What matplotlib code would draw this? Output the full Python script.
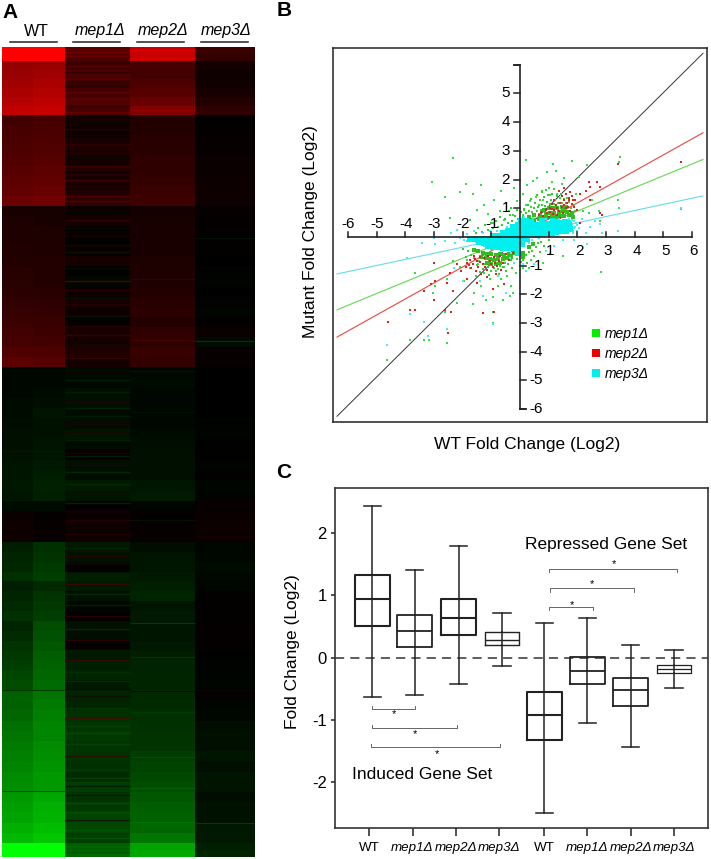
"""Three panel figure: expression heatmap, WT vs mutant scatter, fold change boxplots."""

import matplotlib
matplotlib.use("Agg")
import matplotlib.pyplot as plt
import numpy as np
from matplotlib.colors import LinearSegmentedColormap, Normalize
from matplotlib.lines import Line2D

plt.rcParams["font.family"] = ["Liberation Sans", "DejaVu Sans"]

W, H = 711, 859
MEP1 = "mep1\u0394"
MEP2 = "mep2\u0394"
MEP3 = "mep3\u0394"

# ----------- panel A data, signed colour level per row (red +, green -) -----------
block_edges = [47, 61, 115, 206, 367, 542, 690, 792, 843, 857]
block_rows = [2, 6, 9, 16, 17, 15, 10, 5, 2]

wt_a = [100, 100,
        58, 60, 63, 67, 70, 76,
        25, 27, 29, 30, 32, 34, 36, 38, 42,
        10, 11, 12, 12, 13, 14, 15, 15, 17, 19, 21, 23, 26, 28, 32, 36,
        -3, -3, -3, -4, -4, -5, -6, -6, -7, -8, -8, -9, -8, -4, 4, 6, 6,
        -12, -14, -15, -18, -12, -14, -16, -18, -14, -17, -20, -22, -24, -27, -30,
        -38, -38, -40, -44, -46, -48, -50, -52, -54, -56,
        -60, -62, -64, -68, -72,
        -100, -100]
wt_b = [100, 100,
        60, 63, 66, 70, 74, 78,
        27, 29, 30, 32, 34, 36, 38, 40, 44,
        9, 10, 11, 11, 12, 13, 14, 14, 16, 18, 20, 22, 24, 26, 30, 34,
        -2, -3, -4, -5, -8, -7, -7, -8, -8, -10, -11, -13, -12, -4, 2, 3, 3,
        -18, -20, -22, -24, -16, -20, -22, -24, -30, -32, -34, -36, -38, -40, -42,
        -46, -48, -50, -52, -52, -54, -56, -58, -60, -60,
        -65, -68, -70, -74, -78,
        -100, -100]
mep1 = [35, 30,
        22, 30, 22, 26, 32, 28,
        8, 6, 9, 12, 8, 14, 10, 12, 18,
        5, 8, 3, 1, 4, 10, 1, -3, 4, 8, 6, 1, 10, 8, 12, 8,
        -4, -3, -6, -6, -4, -5, -8, -4, 3, -6, -5, -10, -8, 2, 4, 6, 6,
        -10, -7, 2, -12, -10, -7, -3, 1, -7, -5, 3, -9, -12, -14, -10,
        -14, -14, -18, -20, -22, -20, -20, -18, -16, -24,
        -20, -22, -26, -28, -24,
        -36, -40]
mep2 = [78, 78,
        28, 26, 30, 34, 40, 50,
        14, 14, 16, 16, 18, 18, 20, 22, 24,
        8, 9, 10, 10, 10, 11, 12, 12, 14, 16, 17, 14, 18, 18, 22, 20,
        -3, -4, -3, -3, -3, -3, -4, -5, -6, -6, -6, -8, -10, -2, 2, 3, 3,
        -5, -8, -8, -10, -12, -14, -8, -10, -8, -8, -10, -12, -14, -14, -14,
        -16, -16, -18, -18, -20, -20, -24, -26, -28, -30,
        -34, -36, -38, -40, -46,
        -64, -66]
mep3 = [22, 20,
        8, 6, 7, 10, 14, 18,
        1, 2, 3, 3, 4, 4, 5, 6, 5,
        3, 2, 2, 1, 1, 0, -1, -1, 0, -1, -2, 2, 4, -4, 3, 3,
        0, 0, 0, 0, 0, -1, -1, 0, 1, -1, 1, -2, -1, 3, 4, 5, 4,
        -2, -3, -4, -3, -2, 1, 1, 1, 2, 2, 1, 0, -1, -1, -2,
        2, -2, -3, -5, -6, -6, -8, -6, -8, -8,
        -5, -7, -7, -9, -10,
        -12, -14]

# thin single-gene lines in the mutant columns: (row position, level)
mep1_streaks = [(52, 50), (56, 48), (66, 46), (72, 12), (79, 44), (86, 14), (92, 46), (99, 42), (106, 14), (112, 48),
                (122, -4), (129, 24), (136, 0), (144, 26), (151, 4), (158, -4), (166, 28), (172, 0), (180, 34),
                (188, 8), (196, 40), (201, 44), (212, -4), (220, 28), (228, -8), (236, 14), (245, -12), (252, -14),
                (261, 4), (268, -10), (281, 52), (290, 26), (298, -8), (304, 20), (316, -14), (326, 24), (335, 30),
                (345, -10), (358, 30), (363, 6), (372, 10), (380, -18), (392, -16), (402, 16), (408, -20), (416, -16),
                (424, 14), (432, 14), (440, -18), (453, 18), (456, -18), (465, 20), (472, -22), (484, -22), (493, 18),
                (503, -24), (511, 12), (520, 22), (534, 18), (548, -16), (556, 22), (563, -14), (572, -6), (584, 34),
                (594, -24), (605, -20), (616, 30), (629, -24), (640, 28), (650, -18), (660, 30), (672, -22), (681, -26),
                (689, -4), (696, 12), (708, -28), (718, 40), (726, -30), (733, -34), (744, -30), (756, 22), (770, -28),
                (778, -34), (786, -2), (795, 0), (803, -36), (812, -38), (820, 10), (830, -36), (838, -40), (846, -44),
                (852, -32)]
mep2_streaks = [(50, 92), (58, 92), (110, 62), (279, 30), (340, 34), (371, -14), (412, -10), (520, -12),
                (623, -34), (657, -26), (691, -2), (712, -26), (757, -36), (788, -44), (822, -50)]
wt_streaks = [(690, -2), (791, -4), (500, -14), (451, -14), (365, 40)]
mep3_streaks = [(238, -12), (341, -32), (500, 8), (536, 10), (690, 10), (823, -34)]

# ----------- panel B data -----------
line_x = [-6.38, 6.38]
diag_y = [-6.25, 6.40]
mep2_fit = [-3.49, 3.63]
mep1_fit = [-2.54, 2.70]
mep3_fit = [-1.29, 1.43]

mep1_core = [(0.2, 0.55), (0.35, 0.6), (0.5, 0.6), (0.65, 0.62), (0.8, 0.65), (0.95, 0.65), (1.1, 0.68), (1.25, 0.7),
             (1.4, 0.72), (1.55, 0.72), (1.7, 0.75), (1.85, 0.7), (0.3, 0.7), (0.5, 0.75), (0.7, 0.78), (0.9, 0.8),
             (1.05, 0.85), (1.2, 0.85), (1.35, 0.88), (1.5, 0.9), (1.65, 0.88), (1.8, 0.85), (0.85, 0.95), (1.0, 1.0),
             (1.15, 1.0), (1.3, 1.02), (1.45, 1.05), (1.6, 1.05),
             (-0.1, -0.5), (-0.25, -0.55), (-0.4, -0.6), (-0.55, -0.62), (-0.7, -0.6), (-0.85, -0.62), (-1.0, -0.58),
             (-1.15, -0.58), (-1.3, -0.55), (-1.45, -0.5), (-1.6, -0.45), (-0.3, -0.7), (-0.45, -0.75), (-0.6, -0.78),
             (-0.75, -0.78), (-0.9, -0.8), (-1.05, -0.78), (-1.2, -0.75), (-1.35, -0.7), (-0.7, -0.9), (-0.85, -0.95),
             (-1.0, -0.95), (-1.15, -0.9), (0.1, -0.55), (0.3, -0.35), (0.45, -0.25), (0.1, -0.7)]
mep1_mid = [(0.1, 0.7), (0.22, 0.82), (0.3, 0.92), (0.42, 0.86), (0.48, 1.0), (0.58, 0.9), (0.62, 1.05), (0.72, 0.95),
            (0.78, 1.12), (0.88, 1.08), (0.93, 1.22), (1.03, 1.15), (1.08, 1.3), (1.18, 1.15), (1.22, 1.28), (1.33, 1.18),
            (1.38, 1.35), (1.48, 1.2), (1.55, 1.32), (1.62, 1.18), (1.72, 1.22), (1.78, 1.02), (1.88, 1.1), (1.93, 0.92),
            (0.15, 0.98), (0.05, 0.88), (0.28, 1.12), (0.52, 1.18), (0.68, 1.28), (0.83, 1.38), (0.98, 1.45), (1.12, 1.5),
            (1.28, 1.42), (1.44, 1.5), (0.38, 1.32), (0.6, 1.45), (0.75, 1.55), (0.9, 1.65), (1.02, 1.7), (1.18, 1.68),
            (-0.08, 0.62), (-0.18, 0.72), (-0.28, 0.55), (-0.35, 0.78), (-0.42, 0.48), (-0.52, 0.62), (-0.62, 0.42),
            (-0.68, 0.7), (-0.78, 0.35), (-0.85, 0.55), (-0.95, 0.3), (-1.02, 0.48), (-1.12, 0.24), (-1.22, 0.4),
            (-1.32, 0.18), (-1.45, 0.3), (-1.55, 0.12), (-0.12, 0.95), (-0.32, 1.0),
            (-0.02, -0.62), (-0.12, -0.78), (-0.22, -0.9), (-0.32, -0.82), (-0.42, -0.95), (-0.52, -0.9), (-0.58, -1.05),
            (-0.68, -1.02), (-0.78, -1.12), (-0.92, -1.08), (-1.02, -1.18), (-1.12, -1.05), (-1.22, -0.95), (-1.28, -1.12),
            (-1.42, -0.85), (-1.5, -0.98), (-1.6, -0.72), (-1.72, -0.62), (-1.8, -0.5), (-1.9, -0.7), (-2.0, -0.42),
            (-0.48, -1.18), (-0.72, -1.3), (-1.08, -1.32), (-1.38, -1.22), (-0.28, -1.08), (0.02, -0.88), (0.12, -0.82),
            (0.22, -0.62), (0.32, -0.52), (0.42, -0.48), (0.55, -0.35), (0.62, -0.22), (0.72, -0.18), (0.85, -0.3),
            (1.0, -0.12), (0.25, -0.9), (0.48, -0.68), (0.68, -0.52)]
mep1_sparse = [(-2.32, 2.76), (-3.07, 1.93), (0.21, 2.68), (1.16, 2.54), (1.83, 2.63), (2.35, 2.5), (3.48, 2.8),
               (3.45, 2.6), (5.63, 0.97), (2.84, -1.23), (-4.64, -4.28), (-3.36, -3.6), (-3.16, -3.6), (-3.83, -3.6),
               (-2.55, -3.7), (-0.93, -3.0), (-1.9, 1.85), (-1.35, 1.8), (-2.1, 1.55), (-2.6, 1.4), (-2.45, 0.65),
               (-1.65, 1.5), (-1.25, 1.1), (-0.9, 1.3), (-0.65, 1.6), (-0.5, 1.2), (-1.5, 0.95), (-1.1, 0.8), (-1.75, 0.6),
               (-0.7, 0.9), (-0.4, 0.9), (-0.2, 1.7), (-0.1, 1.25), (-0.95, 0.5), (-0.55, 0.6), (-0.25, 0.75), (0.1, 1.5),
               (0.25, 1.8), (0.45, 1.95), (0.6, 2.05), (0.75, 1.6), (0.95, 2.25), (1.1, 1.9), (1.25, 2.3), (1.45, 1.85),
               (1.55, 2.05), (0.35, 1.25), (0.55, 1.4), (0.8, 1.3), (1.05, 1.45), (1.3, 1.5), (1.65, 1.35), (1.95, 1.5),
               (2.05, 2.1), (2.5, 1.3), (2.75, 0.9), (3.4, 1.3), (3.45, 1.0), (2.8, 0.55), (2.4, 0.85), (2.2, 0.9),
               (0.15, 0.95), (0.1, 0.75), (0.4, 1.05), (0.65, 1.1), (0.2, 1.1), (1.5, -0.65), (1.05, -0.6), (0.8, -0.9),
               (0.4, -0.8), (0.3, -1.1), (0.1, -1.1), (-0.15, -1.25), (-0.3, -1.7), (-0.25, -1.95), (-0.45, -1.35),
               (-0.65, -1.45), (-0.85, -1.2), (-0.75, -1.7), (-0.95, -2.1), (-1.05, -1.45), (-1.25, -1.25), (-1.35, -1.7),
               (-1.55, -1.35), (-1.6, -1.95), (-1.2, -2.2), (-1.75, -1.1), (-1.95, -1.55), (-2.1, -1.05), (-2.2, -2.3),
               (-2.35, -0.85), (-2.55, -1.45), (-2.6, -2.6), (-2.95, -1.7), (-3.05, -1.95), (-3.65, -1.25), (-0.6, -2.2),
               (-0.95, -2.6), (-1.65, -2.35), (-0.35, -2.05), (-0.55, -1.05), (-1.45, -0.95), (-1.85, -0.8)]
mep2_pts = [(0.65, 0.75), (0.8, 0.72), (0.95, 0.85), (1.0, 0.7), (1.05, 1.0), (1.15, 0.8), (1.2, 0.95), (1.25, 1.1),
            (1.3, 0.75), (1.35, 0.9), (1.4, 1.2), (1.45, 1.05), (1.5, 0.85), (1.55, 1.3), (1.6, 1.0), (1.65, 1.2),
            (1.7, 1.35), (1.75, 0.9), (1.8, 1.15), (1.85, 1.3), (1.9, 1.05), (1.4, 0.65), (1.1, 1.15), (0.9, 0.95),
            (1.6, 1.5), (1.75, 1.55), (1.35, 1.6), (1.55, 1.7), (1.2, 1.3), (0.75, 0.55), (2.1, 1.5), (2.3, 1.6),
            (2.4, 1.9), (2.45, 1.3), (2.7, 1.9), (2.8, 1.75), (2.45, 1.75), (2.8, 0.85), (2.85, 0.75), (3.42, 2.55),
            (5.6, 2.62), (2.1, 0.5), (2.0, 0.95), (0.85, 0.62), (1.05, 0.88), (1.28, 1.0), (1.52, 1.12), (1.68, 1.05),
            (1.82, 1.42), (1.48, 1.42), (1.12, 0.98), (0.72, 0.88), (1.92, 1.28), (1.72, 1.28),
            (-0.25, -0.55), (-0.4, -0.8), (-0.5, -0.6), (-0.6, -0.9), (-0.7, -0.65), (-0.8, -1.0), (-0.9, -0.7),
            (-0.95, -1.05), (-1.05, -0.85), (-1.1, -0.65), (-1.15, -1.15), (-1.25, -0.75), (-1.3, -0.95), (-1.4, -0.7),
            (-1.45, -1.05), (-1.5, -0.85), (-1.55, -1.2), (-1.6, -0.65), (-1.65, -0.95), (-1.7, -1.1), (-1.75, -0.8),
            (-1.85, -0.9), (-1.9, -1.05), (-1.35, -1.3), (-1.15, -1.4), (-0.85, -1.3), (-0.65, -1.15), (-0.55, -1.65),
            (-0.95, -1.8), (-1.5, -1.6), (-1.85, -1.45), (-2.05, -1.2), (-2.2, -0.95), (-2.45, -1.25), (-2.55, -1.6),
            (-2.35, -1.9), (-2.6, -2.55), (-2.4, -2.6), (-3.0, -0.9), (-2.95, -1.55), (-3.35, -1.9), (-3.1, -1.65),
            (-3.65, -2.55), (-3.85, -2.55), (-3.0, -2.2), (-2.5, -3.35), (-4.6, -2.95), (-1.3, -2.65), (-0.9, -2.6),
            (-1.02, -0.95), (-1.22, -1.05), (-1.38, -0.88), (-1.58, -0.78), (-1.78, -0.98), (-0.72, -0.85), (-0.88, -0.92)]
mep3_core = [(0.08, 0.08), (0.25, 0.08), (0.42, 0.08), (0.59, 0.08), (0.76, 0.1), (0.93, 0.12), (1.1, 0.14), (1.27, 0.16),
             (1.44, 0.2), (1.61, 0.22), (1.75, 0.27), (0.08, 0.25), (0.25, 0.25), (0.42, 0.25), (0.59, 0.25), (0.76, 0.27),
             (0.93, 0.28), (1.1, 0.3), (1.27, 0.32), (1.44, 0.36), (1.61, 0.38), (1.72, 0.4), (0.08, 0.42), (0.25, 0.42),
             (0.42, 0.42), (0.59, 0.42), (0.76, 0.44), (0.93, 0.46), (1.1, 0.46), (1.27, 0.48), (1.44, 0.5), (1.58, 0.52),
             (1.66, 0.5), (0.05, 0.56), (0.22, 0.55), (0.4, 0.52), (0.75, 0.55), (1.15, 0.56), (-0.08, 0.08), (-0.25, 0.07),
             (-0.42, 0.06), (-0.59, 0.05), (-0.76, 0.05), (-0.93, 0.04), (-0.08, 0.25), (-0.25, 0.22), (-0.42, 0.2), (-0.6, 0.14),
             (-0.08, 0.42), (-0.25, 0.34), (-0.08, -0.08), (-0.25, -0.08), (-0.42, -0.08), (-0.59, -0.08), (-0.76, -0.08),
             (-0.93, -0.08), (-1.1, -0.08), (-1.27, -0.08), (-1.44, -0.08), (-1.6, -0.07), (-1.75, -0.06), (-0.08, -0.25),
             (-0.25, -0.25), (-0.42, -0.25), (-0.59, -0.25), (-0.76, -0.25), (-0.93, -0.25), (-1.1, -0.24), (-1.27, -0.22),
             (-1.42, -0.18), (-0.08, -0.42), (-0.25, -0.4), (-0.42, -0.4), (-0.59, -0.38), (-0.76, -0.36), (-0.93, -0.34),
             (-1.1, -0.32), (0.08, -0.08), (0.25, -0.08), (0.08, -0.25), (-0.08, -0.55)]
mep3_sparse = [(1.95, 0.5), (2.05, 0.3), (2.15, 0.62), (2.3, 0.15), (2.45, 0.35), (2.6, 0.55), (2.8, 0.45), (2.85, 0.15),
               (3.4, 0.2), (5.63, 1.0), (2.35, -0.25), (1.9, -0.1), (1.5, -0.12), (1.2, -0.3), (0.9, -0.5), (0.5, -0.95),
               (0.1, -0.95), (-0.2, -0.9), (0.2, -1.2), (-1.95, -0.12), (-2.1, -0.05), (-2.25, -0.2), (-2.4, 0.12),
               (-2.2, 0.25), (-2.6, -0.15), (-2.95, -0.25), (-3.0, -0.05), (-3.4, -0.2), (-3.95, -0.75), (-3.85, -2.7),
               (-3.35, -2.95), (-3.2, -3.45), (-2.55, -3.2), (-4.65, -3.75), (-2.3, -1.1), (-2.0, -1.55), (-1.4, -1.55),
               (-0.95, -3.05), (-1.3, -2.05), (-0.75, -1.35), (-0.35, -0.75), (-0.5, -1.95), (-1.6, 0.2), (-1.85, 0.1),
               (-1.3, 0.12), (-1.05, 0.2), (0.15, 0.68), (0.45, 0.66), (0.9, 0.62), (1.35, 0.62), (1.7, 0.64), (1.92, 0.35),
               (-0.8, 0.22), (-0.45, 0.36), (-1.25, -0.32), (-0.6, -0.5), (-0.3, -0.55), (0.3, -0.2), (0.42, -0.12),
               (0.65, -0.05), (-1.55, -0.18), (-1.85, -0.15), (1.84, 0.2), (1.88, 0.32), (1.82, 0.44), (1.9, 0.56),
               (1.86, 0.12), (1.98, 0.2), (1.8, 0.6), (2.0, 0.42)]
legend_labels = [MEP1, MEP2, MEP3]
legend_colors = ["#00ee00", "#ee0000", "#00eeee"]

axis_ticks = [-6, -5, -4, -3, -2, -1, 1, 2, 3, 4, 5, 6]

# ----------- panel C data -----------
tick_pos = [1, 2, 3, 4, 5.05, 6.05, 7.05, 8.05]
box_pos = [1.07, 2.05, 3.07, 4.07, 5.05, 6.05, 7.05, 8.05]
box_labels = ["WT", MEP1, MEP2, MEP3, "WT", MEP1, MEP2, MEP3]
whisker_hi = [2.43, 1.40, 1.79, 0.72, 0.556, 0.64, 0.209, 0.118]
q3 = [1.326, 0.684, 0.94, 0.406, -0.55, 0.016, -0.326, -0.112]
medians = [0.94, 0.433, 0.64, 0.289, -0.914, -0.209, -0.513, -0.187]
q1 = [0.513, 0.166, 0.358, 0.198, -1.32, -0.422, -0.77, -0.251]
whisker_lo = [-0.63, -0.594, -0.428, -0.128, -2.497, -1.048, -1.428, -0.487]
box_lw = [1.5, 1.3, 1.5, 1.0, 1.5, 1.3, 1.3, 0.9]

# (x start, x end, bar y, star x, star y)
brackets = [(1.07, 2.06, -0.82, 1.58, -0.90), (1.07, 3.02, -1.13, 2.06, -1.22), (1.05, 4.03, -1.43, 2.56, -1.55),
            (5.16, 6.18, 0.807, 5.69, 0.84), (5.18, 7.12, 1.11, 6.16, 1.18), (5.15, 8.13, 1.417, 6.66, 1.50)]


def px_axes(fig, left, top, right, bottom):
    return fig.add_axes([left / W, 1 - bottom / H, (right - left) / W, (bottom - top) / H])


def fig_text(fig, x, y, s, **kw):
    kw.setdefault("ha", "center")
    kw.setdefault("va", "center")
    fig.text(x / W, 1 - y / H, s, **kw)


def row_edges():
    parts = [np.linspace(a, b, n, endpoint=False) for a, b, n in zip(block_edges[:-1], block_edges[1:], block_rows)]
    return np.append(np.concatenate(parts), block_edges[-1])


def draw_heatmap(fig):
    ax = px_axes(fig, 2, 47, 255, 857)
    cmap = LinearSegmentedColormap.from_list("rg", ["#00ff00", "#000000", "#ff0000"])
    norm = Normalize(-100, 100)
    col_edges = [2, 33, 65, 130, 195, 255]
    values = np.array([wt_a, wt_b, mep1, mep2, mep3]).T
    ax.pcolormesh(col_edges, row_edges(), values, cmap=cmap, norm=norm, antialiased=False, rasterized=True)
    for streaks, x0, x1, lw, alpha in [(mep1_streaks, 65, 130, 1.0, 0.6), (mep2_streaks, 130, 195, 0.8, 0.6),
                                       (wt_streaks, 2, 65, 0.8, 0.5), (mep3_streaks, 195, 255, 0.8, 0.6)]:
        for y, v in streaks:
            ax.hlines(y, x0, x1, color=cmap(norm(v)), lw=lw, alpha=alpha)
    ax.set_xlim(2, 255)
    ax.set_ylim(857, 47)
    ax.axis("off")

    for label, x, x0, x1, style in [("WT", 36, 10, 57, "normal"), (MEP1, 100, 73, 120, "italic"),
                                    (MEP2, 163, 137, 184, "italic"), (MEP3, 226, 201, 248, "italic")]:
        fig_text(fig, x, 31, label, fontsize=11.5, fontstyle=style)
        fig.add_artist(Line2D([x0 / W, x1 / W], [1 - 42 / H, 1 - 42 / H], color="#222222", lw=1.1))
    fig_text(fig, 10, 12, "A", fontsize=15, fontweight="bold")


def draw_scatter(fig):
    ax = px_axes(fig, 333, 48, 707, 422)
    ax.set_xlim(-6.52, 6.52)
    ax.set_ylim(-6.45, 6.585)
    ax.set_xticks([])
    ax.set_yticks([])
    for s in ax.spines.values():
        s.set_linewidth(1.2)
        s.set_color("#333333")

    ax.plot(line_x, diag_y, color="#333333", lw=0.7, zorder=1)
    ax.plot(line_x, mep2_fit, color="#e8483c", lw=0.8, zorder=1)
    ax.plot(line_x, mep1_fit, color="#62d84e", lw=0.8, zorder=1)
    ax.plot(line_x, mep3_fit, color="#62dcec", lw=0.8, zorder=1)

    for pts, color, size, z in [(mep1_sparse, "#33dd44", 2.0, 2), (mep1_mid, "#33cc33", 3.5, 2), (mep1_core, "#33bb22", 8, 2),
                                (mep2_pts, "#dd2222", 2.4, 3), (mep3_sparse, "#44eeee", 2.2, 4),
                                (mep3_core, "#00f0f0", 14, 4)]:
        x, y = zip(*pts)
        ax.scatter(x, y, s=size, c=color, marker="s", linewidths=0, zorder=z)

    ax.plot([-6, 6], [0, 0], color="#222222", lw=1.2, zorder=5)
    ax.plot([0, 0], [-6, 6], color="#222222", lw=1.2, zorder=5)
    ax.plot([0, 0.2], [-6, -6], color="#222222", lw=1.2, zorder=5)
    ax.plot([-0.2, 0], [6, 6], color="#222222", lw=1.2, zorder=5)
    for v in axis_ticks:
        ax.plot([v, v], [0, 0.18], color="#222222", lw=1.1, zorder=5)
        xt = (-0.2, 0) if v > 0 else (0, 0.2)
        ax.plot(xt, [v, v], color="#222222", lw=1.1, zorder=5)
        if v < 0:
            ax.text(v + 0.02, 0.45, str(v), ha="center", va="center", fontsize=11, zorder=6)
            ax.text(0.56, v, str(v), ha="center", va="center", fontsize=11, zorder=6)
        else:
            ax.text(v + 0.06, -0.49, str(v), ha="center", va="center", fontsize=11, zorder=6)
            if v < 6:
                ax.text(-0.49, v, str(v), ha="center", va="center", fontsize=11, zorder=6)

    handles = [Line2D([], [], ls="", marker="s", ms=5.6, color=c, label=lab, mew=0)
               for c, lab in zip(legend_colors, legend_labels)]
    ax.legend(handles=handles, loc="center left", bbox_to_anchor=(0.684, 0.182), frameon=False, handlelength=1,
              handletextpad=0.15, labelspacing=0.42, borderpad=0, borderaxespad=0,
              prop={"style": "italic", "size": 10})

    fig_text(fig, 310, 232, "Mutant Fold Change (Log2)", rotation=90, fontsize=12.5)
    fig_text(fig, 527, 445, "WT Fold Change (Log2)", fontsize=12.5)
    fig_text(fig, 284, 11, "B", fontsize=15, fontweight="bold")


def draw_boxes(fig):
    ax = px_axes(fig, 335, 488, 708, 828)
    ax.set_xlim(0.206, 8.84)
    ax.set_ylim(-2.73, 2.72)
    stats = [{"whislo": lo, "q1": a, "med": m, "q3": b, "whishi": hi, "fliers": []}
             for lo, a, m, b, hi in zip(whisker_lo, q1, medians, q3, whisker_hi)]
    for st, x, lw in zip(stats, box_pos, box_lw):
        props = {"color": "#222222", "linewidth": lw}
        ax.bxp([st], positions=[x], widths=0.8, manage_ticks=False, boxprops=props, medianprops=props,
               whiskerprops={"color": "#222222", "linewidth": 1.1}, capprops={"color": "#222222", "linewidth": 1.1},
               capwidths=0.4)
        ax.plot([x, x], [st["q1"], st["q3"]], color="#222222", lw=1.1)
    ax.axhline(0, color="#333333", lw=1.1, dashes=(6, 4), zorder=1)

    for x0, x1, y, sx, sy in brackets:
        end = y + 0.05 if y < 0 else y - 0.05
        ax.plot([x0, x0, x1, x1], [end, y, y, end], color="#666666", lw=0.7)
        ax.text(sx, sy, "*", ha="center", va="center", fontsize=8)

    ax.text(2.23, -1.88, "Induced Gene Set", ha="center", va="center", fontsize=12.5)
    ax.text(6.47, 1.82, "Repressed Gene Set", ha="center", va="center", fontsize=12.5)

    ax.set_xticks(tick_pos)
    ax.set_xticklabels(box_labels, fontsize=9.6)
    for lab, name in zip(ax.get_xticklabels(), box_labels):
        if name != "WT":
            lab.set_fontstyle("italic")
    ax.set_yticks([-2, -1, 0, 1, 2])
    ax.set_yticklabels(["-2", "-1", "0", "1", "2"], fontsize=12)
    ax.tick_params(axis="x", length=6, width=1.1, pad=4, color="#222222")
    ax.tick_params(axis="y", length=3, width=1.1, pad=3, color="#222222")
    for s in ax.spines.values():
        s.set_linewidth(1.2)
        s.set_color("#333333")

    fig_text(fig, 292, 652, "Fold Change (Log2)", rotation=90, fontsize=12.5)
    fig_text(fig, 284, 472, "C", fontsize=15, fontweight="bold")


def main():
    fig = plt.figure(figsize=(W / 100, H / 100), dpi=100)
    draw_heatmap(fig)
    draw_scatter(fig)
    draw_boxes(fig)
    fig.savefig("out.png", dpi=100)
    plt.close(fig)


if __name__ == "__main__":
    main()
